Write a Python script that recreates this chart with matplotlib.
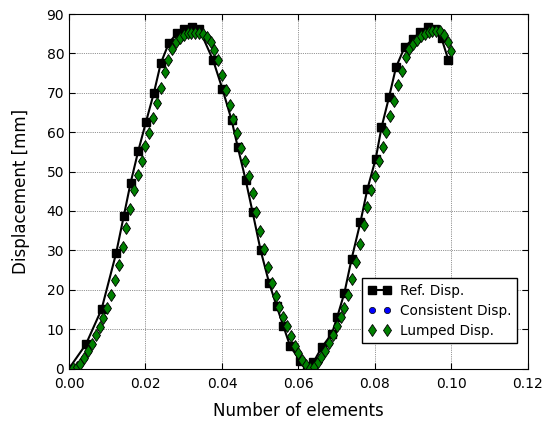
import numpy as np
import matplotlib
matplotlib.use('Agg')
import matplotlib.pyplot as plt

# reference solution (squares joined by a line)
t_ref = [0.0, 0.0044, 0.0085, 0.0123, 0.0143, 0.0161, 0.0181, 0.0201, 0.0222, 0.0240,
         0.0261, 0.0282, 0.0301, 0.0322, 0.0341, 0.0377, 0.0401, 0.0425, 0.0441, 0.0462,
         0.0480, 0.0501, 0.0523, 0.0543, 0.0560, 0.0578, 0.0604, 0.0621, 0.0639, 0.0661,
         0.0687, 0.0701, 0.0720, 0.0739, 0.0762, 0.0780, 0.0802, 0.0817, 0.0837, 0.0855,
         0.0878, 0.0899, 0.0918, 0.0938, 0.0957, 0.0974, 0.0992]
u_ref = [0.0, 6.1, 15.0, 29.2, 38.6, 47.1, 55.2, 62.5, 70.0, 77.5,
         82.6, 85.1, 86.1, 86.6, 86.1, 78.2, 71.0, 63.1, 56.3, 47.8,
         39.7, 30.0, 21.8, 15.8, 10.9, 5.7, 2.0, 0.3, 1.6, 5.4,
         8.8, 13.0, 19.2, 27.9, 37.2, 45.5, 53.3, 61.2, 69.0, 76.5,
         81.7, 83.6, 85.5, 86.8, 86.2, 83.8, 78.3]

# lumped mass solution
t_lump = [0.001, 0.002, 0.003, 0.004, 0.005, 0.006, 0.007, 0.008, 0.009, 0.010,
          0.011, 0.012, 0.013, 0.014, 0.015, 0.016, 0.017, 0.018, 0.019, 0.020,
          0.021, 0.022, 0.023, 0.024, 0.025, 0.026, 0.027, 0.028, 0.029, 0.030,
          0.031, 0.032, 0.033, 0.034, 0.035, 0.036, 0.037, 0.038, 0.039, 0.040,
          0.041, 0.042, 0.043, 0.044, 0.045, 0.046, 0.047, 0.048, 0.049, 0.050,
          0.051, 0.052, 0.053, 0.054, 0.055, 0.056, 0.057, 0.058, 0.059, 0.060,
          0.061, 0.062, 0.063, 0.064, 0.065, 0.066, 0.067, 0.068, 0.069, 0.070,
          0.071, 0.072, 0.073, 0.074, 0.075, 0.076, 0.077, 0.078, 0.079, 0.080,
          0.081, 0.082, 0.083, 0.084, 0.085, 0.086, 0.087, 0.088, 0.089, 0.090,
          0.091, 0.092, 0.093, 0.094, 0.095, 0.096, 0.097, 0.098, 0.099, 0.100]
u_lump = [0.1, 0.3, 1.2, 2.6, 4.4, 6.3, 8.5, 10.6, 12.9, 15.4,
          18.6, 22.4, 26.4, 30.8, 35.7, 40.4, 45.3, 49.1, 52.7, 56.4,
          59.9, 63.6, 67.4, 71.3, 75.2, 78.3, 81.0, 82.8, 84.0, 84.7,
          85.1, 85.3, 85.3, 85.3, 84.9, 84.1, 82.8, 80.9, 78.2, 74.5,
          70.7, 67.0, 63.3, 59.7, 56.1, 52.6, 48.9, 44.5, 39.7, 34.9,
          30.3, 25.8, 21.8, 18.4, 15.6, 13.0, 10.8, 8.2, 5.8, 3.9,
          2.2, 0.8, 0.2, 0.5, 1.6, 2.9, 4.4, 6.4, 8.6, 10.7,
          13.0, 15.4, 18.7, 22.6, 27.0, 31.7, 36.4, 41.0, 45.3, 48.9,
          52.7, 56.3, 60.1, 64.1, 67.9, 72.0, 75.6, 79.2, 81.0, 82.5,
          83.4, 84.3, 84.9, 85.5, 85.8, 85.8, 85.7, 84.7, 83.0, 80.6]

# consistent mass solution sits under the lumped markers
t_cons = list(t_lump)
u_cons = list(u_lump)

fig = plt.figure(figsize=(5.45, 4.23), dpi=100)
ax = fig.add_axes([0.1266, 0.1288, 0.8422, 0.8381])

ax.plot(t_ref, u_ref, 'k-s', lw=1.5, ms=5.5, label='Ref. Disp.')
ax.plot(t_cons, u_cons, 'o', color='b', mec='k', mew=0.5, ms=4.5, label='Consistent Disp.')
ax.plot(t_lump, u_lump, 'd', color='g', mfc=(0, 0.5, 0), mec='k', mew=0.6, ms=6.5,
        label='Lumped Disp.')

ax.set_xlim(0, 0.12)
ax.set_ylim(0, 90)
ax.set_xticks(np.arange(0, 0.121, 0.02))
ax.set_yticks(np.arange(0, 91, 10))
ax.xaxis.set_major_formatter(matplotlib.ticker.FormatStrFormatter('%.2f'))
ax.tick_params(direction='in', top=True, right=True, length=4, labelsize=10)
ax.tick_params(axis='x', pad=6)
ax.grid(True, linestyle=':', color='0.2', lw=0.5)
ax.set_xlabel('Number of elements', fontsize=12, labelpad=8)
ax.set_ylabel('Displacement [mm]', fontsize=12, labelpad=12)

leg = ax.legend(loc='lower right', bbox_to_anchor=(0.977, 0.071), borderaxespad=0,
                numpoints=2, fontsize=9.8, fancybox=False, framealpha=1,
                handlelength=1.7, handletextpad=0.7, labelspacing=0.45)
leg.get_frame().set_edgecolor('k')
leg.get_frame().set_linewidth(1.0)

fig.savefig('out.png', dpi=100)
